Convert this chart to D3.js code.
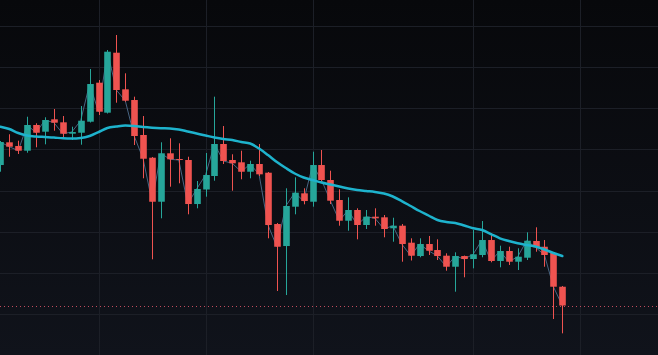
<!DOCTYPE html>
<html>
<head>
<meta charset="utf-8">
<script src="https://cdn.jsdelivr.net/npm/d3@7"></script>
<style>
  html, body { margin: 0; padding: 0; background: #0a0b0f; overflow: hidden; }
  svg { display: block; }
</style>
</head>
<body>
<svg id="chart" width="658" height="355"></svg>
<script>
// ---- data (price units are arbitrary, no axis shown) ----
const opens  = [86.21,91.73,90.83,89.69,95.94,94.31,97.32,96.59,93.82,94.06,96.74,106.22,98.93,113.51,104.61,102.01,93.51,87.99,77.29,89.06,87.67,87.43,76.73,80.26,83.54,91.32,87.43,86.87,84.58,86.46,84.34,71.87,66.52,76.08,79.33,77.29,86.21,82.57,77.71,72.67,75.28,71.63,73.65,73.50,70.83,71.46,67.33,64.09,67.01,65.55,64.17,61.49,64.09,63.36,64.34,67.98,62.88,65.31,62.71,63.68,67.74,66.35,64.82,56.63];
const highs  = [92.05,93.68,92.12,97.95,96.35,97.81,99.83,98.12,95.52,100.55,109.55,106.87,114.17,117.81,108.50,102.82,98.12,88.16,91.73,92.70,91.49,88.23,82.32,89.13,102.82,95.69,88.82,89.69,87.26,91.32,84.51,72.12,80.55,83.22,80.55,89.45,89.86,84.83,80.31,78.36,75.69,75.28,75.69,74.06,73.40,71.87,68.40,68.40,68.96,68.15,64.75,64.99,64.20,70.41,72.60,69.61,66.60,66.35,65.97,69.85,71.07,67.98,64.99,56.80];
const lows   = [84.58,88.23,88.89,89.20,90.52,91.24,94.55,92.95,92.29,91.15,96.54,98.37,98.73,101.36,101.60,91.07,82.98,63.29,73.26,80.94,81.77,74.23,75.69,78.51,82.40,86.46,79.97,82.74,82.98,83.54,68.40,55.59,54.61,74.23,76.66,76.08,82.15,76.73,71.46,70.24,68.15,70.66,71.46,68.64,67.57,62.71,63.00,63.78,64.34,63.12,60.52,55.42,58.92,61.10,63.78,62.56,61.35,61.91,60.69,63.12,65.14,61.49,48.78,45.30];
const closes = [91.80,90.66,89.69,95.94,94.06,97.15,96.50,93.82,94.23,96.98,105.90,99.17,113.75,104.44,101.84,93.26,87.74,77.29,89.06,87.60,87.43,76.73,80.38,83.78,91.32,87.19,86.63,84.58,86.46,83.95,71.63,66.35,76.25,79.48,77.46,86.21,82.57,77.54,72.67,75.28,71.63,73.65,73.26,70.66,71.46,67.01,64.17,67.01,65.38,64.09,61.49,64.09,63.36,64.51,67.98,62.88,65.31,62.71,63.92,67.81,66.21,64.34,56.63,52.06];
const movingAvg = [95.52,94.96,93.99,93.38,93.14,93.02,92.90,92.70,92.65,92.78,93.26,94.23,95.21,95.57,95.81,95.69,95.45,95.28,95.16,95.09,94.84,94.36,93.87,93.38,92.90,92.53,92.29,91.80,91.44,90.22,88.64,86.94,85.48,84.15,83.18,82.57,81.96,81.47,80.99,80.50,80.14,79.89,79.65,79.29,78.56,77.46,76.25,75.03,73.94,72.84,72.36,72.12,71.51,70.83,70.41,69.44,68.40,67.74,67.18,66.77,66.40,65.67,64.82,64.09];
const priceTicks = [40, 50, 60, 70, 80, 90, 100, 110, 120];
const timeTickIndex = [11, 23, 35, 53, 65];

// ---- layout ----
const W = 658, H = 355;
const svg = d3.select("#chart");

const candles = opens.map((o, i) => ({ i, o, h: highs[i], l: lows[i], c: closes[i], ma: movingAvg[i] }));

const x = d3.scaleLinear().domain([0, 63]).range([0.4, 562.3]);
const y = d3.scaleLinear().domain([50, 120]).range([314, 26]);
const step = x(1) - x(0);
const bodyW = step * 0.74;

// background gradient
const defs = svg.append("defs");
const grad = defs.append("linearGradient").attr("id", "bg").attr("x1", 0).attr("y1", 0).attr("x2", 0).attr("y2", 1);
grad.append("stop").attr("offset", "0%").attr("stop-color", "#07080b");
grad.append("stop").attr("offset", "100%").attr("stop-color", "#10131b");
svg.append("rect").attr("width", W).attr("height", H).attr("fill", "url(#bg)");

// grid
const grid = svg.append("g").attr("stroke", "#1c1f27").attr("stroke-width", 1);
grid.selectAll("line.h").data(priceTicks).join("line")
  .attr("x1", 0).attr("x2", W)
  .attr("y1", d => Math.round(y(d)) + 0.5).attr("y2", d => Math.round(y(d)) + 0.5);
grid.selectAll("line.v").data(timeTickIndex).join("line")
  .attr("y1", 0).attr("y2", H)
  .attr("x1", d => Math.round(x(d)) + 0.5).attr("x2", d => Math.round(x(d)) + 0.5);

// last price dotted line
const last = candles[candles.length - 1];
svg.append("line")
  .attr("x1", 0).attr("x2", W)
  .attr("y1", Math.round(y(last.c)) + 0.5).attr("y2", Math.round(y(last.c)) + 0.5)
  .attr("stroke", "#e0566a").attr("stroke-width", 1)
  .attr("stroke-dasharray", "1,3").attr("opacity", 0.85);

// thin close line
svg.append("path").datum(candles)
  .attr("fill", "none").attr("stroke", "#4f6e8e").attr("stroke-width", 1).attr("opacity", 0.9)
  .attr("d", d3.line().x(d => x(d.i)).y(d => y(d.c)));

// candles
const up = "#26a69a", down = "#ef5350";
const g = svg.append("g");
const cg = g.selectAll("g.c").data(candles).join("g");
cg.append("line")
  .attr("x1", d => Math.round(x(d.i)) + 0.5).attr("x2", d => Math.round(x(d.i)) + 0.5)
  .attr("y1", d => y(d.h)).attr("y2", d => y(d.l))
  .attr("stroke", d => d.c >= d.o ? up : down).attr("stroke-width", 1);
cg.append("rect")
  .attr("x", d => Math.round(x(d.i)) + 0.5 - bodyW / 2)
  .attr("width", bodyW)
  .attr("y", d => y(Math.max(d.o, d.c)))
  .attr("height", d => Math.max(1, Math.abs(y(d.o) - y(d.c))))
  .attr("fill", d => d.c >= d.o ? up : down);

// moving average
svg.append("path").datum(candles)
  .attr("fill", "none").attr("stroke", "#1eb3cd").attr("stroke-width", 2.5)
  .attr("stroke-linejoin", "round").attr("stroke-linecap", "round")
  .attr("d", d3.line().curve(d3.curveMonotoneX).x(d => x(d.i)).y(d => y(d.ma)));
</script>
</body>
</html>
